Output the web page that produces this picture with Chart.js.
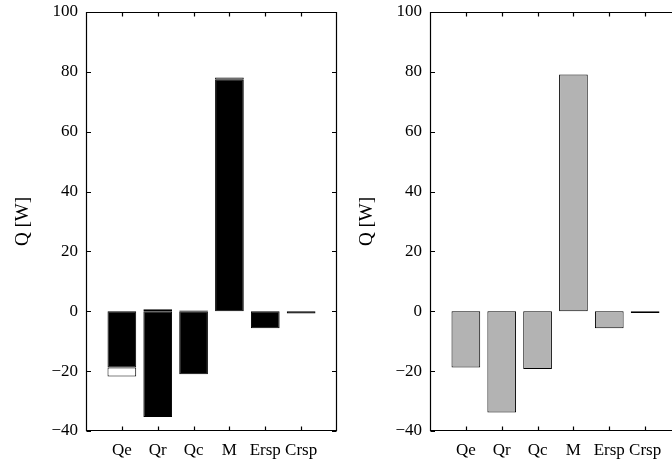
<!DOCTYPE html>
<html><head><meta charset="utf-8">
<script src="https://cdn.jsdelivr.net/npm/chart.js@4/dist/chart.umd.min.js"></script>
<style>
html,body{margin:0;padding:0;width:672px;height:465px;overflow:hidden;background:#fff}
canvas{position:absolute;top:0}
#c1{left:0}
#c2{left:344px}
</style></head><body>
<canvas id="c1" width="345" height="465"></canvas>
<canvas id="c2" width="345" height="465"></canvas>
<script>
// ---- data ----
const categories = ['Qe','Qr','Qc','M','Ersp','Crsp'];
// left panel: stacked black (main) + white (extra) parts
const leftMain  = [-18.8, -35.3, -21.0, 77.4, -5.7, -0.7];
const leftExtra = [-3.0, 0.7, 0.3, 0.7, 0, 0];
// right panel
const rightValues = [-18.8, -33.8, -19.3, 79.1, -5.7, -0.6];
const yTicks = [-40, -20, 0, 20, 40, 60, 80, 100];

const FONT = "'Liberation Serif', 'Times New Roman', serif";

function pts(arr){ return arr.map((v,i)=>({x:i+1, y:v})); }

const boxTicks = {
  id:'boxTicks',
  afterDraw(chart){
    const {ctx, chartArea:a} = chart;
    const xs = chart.scales.x, ys = chart.scales.y;
    const L = Math.round(a.left)+0.5, R = Math.round(a.right)-0.5;
    const T = Math.round(a.top)+0.5, B = Math.round(a.bottom)-0.5;
    ctx.save();
    ctx.strokeStyle = '#000';
    ctx.lineWidth = 1.2;
    ctx.beginPath();
    ctx.rect(L, T, R-L, B-T);
    ctx.stroke();
    ctx.beginPath();
    yTicks.forEach(v=>{
      const y = Math.round(ys.getPixelForValue(v))+0.5;
      ctx.moveTo(L, y); ctx.lineTo(L+4.5, y);
      ctx.moveTo(R, y); ctx.lineTo(R-4.5, y);
    });
    categories.forEach((c,i)=>{
      const x = Math.round(xs.getPixelForValue(i+1))+0.5;
      ctx.moveTo(x, B); ctx.lineTo(x, B-4);
      ctx.moveTo(x, T); ctx.lineTo(x, T+4);
    });
    ctx.stroke();
    ctx.restore();
  }
};

function makeOptions(stacked){
  return {
    responsive:false,
    animation:false,
    devicePixelRatio:1,
    layout:{padding:{top:12, right:8, left:0, bottom:0}},
    plugins:{legend:{display:false}, tooltip:{enabled:false}},
    scales:{
      x:{
        type:'linear', min:0, max:7, stacked:stacked, offset:false,
        grid:{display:false, drawTicks:false}, border:{display:false},
        afterBuildTicks(s){ s.ticks = categories.map((c,i)=>({value:i+1})); },
        afterFit(s){ s.height = 34; s.paddingLeft = 0; s.paddingRight = 0; },
        ticks:{autoSkip:false, maxRotation:0, padding:9, color:'#000',
          font:{family:FONT, size:17},
          callback:(v)=>categories[v-1] ?? ''}
      },
      y:{
        min:-40, max:100, stacked:stacked,
        grid:{display:false, drawTicks:false}, border:{display:false},
        afterBuildTicks(s){ s.ticks = yTicks.map(v=>({value:v})); },
        afterFit(s){ s.width = 86; s.paddingTop = 0; s.paddingBottom = 0; },
        ticks:{padding:8, color:'#000', font:{family:FONT, size:17},
          callback:(v)=> v<0 ? '\u2212'+Math.abs(v) : String(v)},
        title:{display:true, text:'Q [W]', color:'#000',
          font:{family:FONT, size:19}, padding:{top:12,bottom:0}}
      }
    }
  };
}

new Chart(document.getElementById('c1'), {
  type:'bar',
  data:{datasets:[
    {data:pts(leftMain), backgroundColor:'#000', borderColor:'#000', borderWidth:1,
     borderSkipped:false, barPercentage:0.8, categoryPercentage:1},
    {data:pts(leftExtra), backgroundColor:'#fff', borderColor:'#000', borderWidth:1,
     borderSkipped:false, barPercentage:0.8, categoryPercentage:1}
  ]},
  options:makeOptions(true),
  plugins:[boxTicks]
});

new Chart(document.getElementById('c2'), {
  type:'bar',
  data:{datasets:[
    {data:pts(rightValues), backgroundColor:'#b3b3b3', borderColor:'#000', borderWidth:1,
     borderSkipped:false, barPercentage:0.8, categoryPercentage:1}
  ]},
  options:makeOptions(false),
  plugins:[boxTicks]
});
</script>
</body></html>
